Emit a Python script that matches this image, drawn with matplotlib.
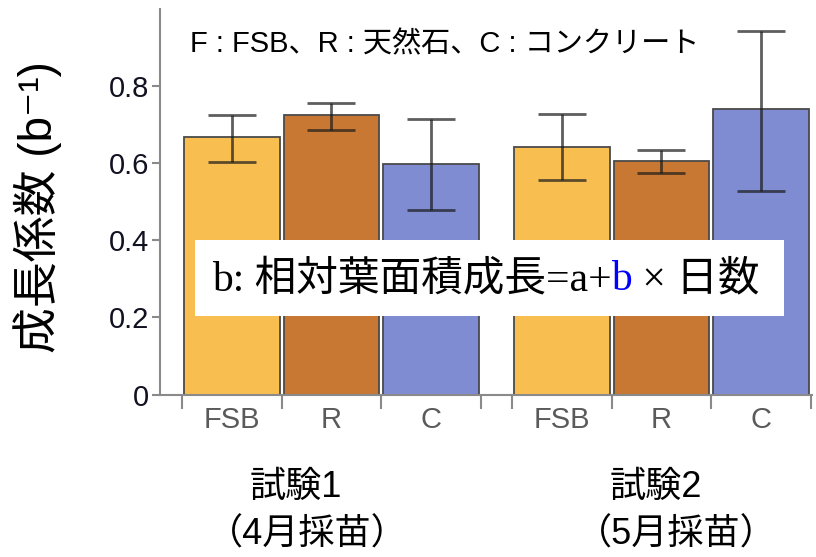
import matplotlib
matplotlib.use("Agg")
import matplotlib.pyplot as plt
from matplotlib.patches import Rectangle
import numpy as np

plt.rcParams['font.family'] = ['Liberation Sans', 'Noto Sans CJK JP', 'DejaVu Sans']

# data
materials = ['FSB', 'R', 'C']
growth = [0.667, 0.725, 0.598, 0.643, 0.607, 0.741]
err_low = [0.602, 0.687, 0.479, 0.557, 0.574, 0.529]
err_high = [0.725, 0.755, 0.714, 0.727, 0.635, 0.943]
trial_names = ['試験1', '試験2']
trial_dates = ['（4月採苗）', '（5月採苗）']
yticks = [0, 0.2, 0.4, 0.6, 0.8]
ytick_labels = ['0', '0.2', '0.4', '0.6', '0.8']

colors = ['#F9BE50', '#C87832', '#7F8CD2'] * 2

growth = np.array(growth)
yerr = [growth - np.array(err_low), np.array(err_high) - growth]
x = np.r_[np.arange(3), np.arange(3) + 3.31]

fig = plt.figure(figsize=(8.16, 5.57), dpi=100)
ax = fig.add_axes([160 / 816, (557 - 394.5) / 557, 652 / 816, 385.5 / 557])

ax.bar(x, growth, width=0.96, color=colors, edgecolor='#4a4a4a', linewidth=1.3, zorder=2)
ax.errorbar(x, growth, yerr=yerr, fmt='none', ecolor=(0.1, 0.1, 0.1, 0.7),
            elinewidth=2, capsize=17, capthick=2, zorder=3)

ax.set_xlim(-0.72, 5.82)
ax.set_ylim(0, 1.0)

edges = np.r_[x[:3] - 0.5, x[2] + 0.5, x[3:] - 0.5, x[5] + 0.5]
ax.set_xticks(x)
ax.set_xticklabels(materials * 2)
ax.set_xticks(edges, minor=True)
ax.tick_params(axis='x', which='major', length=0, pad=8, labelsize=21, labelcolor='#5a5a5a')
ax.tick_params(axis='x', which='minor', length=10, width=1.5, color='#8a8a8a')

ax.set_yticks(yticks)
ax.set_yticklabels(ytick_labels)
ax.tick_params(axis='y', length=6, width=1.5, color='#8a8a8a', pad=2, labelsize=21,
               labelcolor='#111122')

for s in ['top', 'right']:
    ax.spines[s].set_visible(False)
for s in ['left', 'bottom']:
    ax.spines[s].set_color('#8a8a8a')
    ax.spines[s].set_linewidth(1.5)

ax.text(-0.42, 0.908, 'F : FSB、R : 天然石、C : コンクリート', fontsize=21,
        ha='left', va='center')

# formula box
ax.add_patch(Rectangle((-0.37, 0.203), 5.91, 0.197, facecolor='white',
                       edgecolor='none', zorder=5))
serif = ['Liberation Serif', 'Noto Sans CJK JP']
t1 = ax.text(-0.2, 0.27, 'b: 相対葉面積成長=a+', family=serif, fontsize=30,
             ha='left', va='baseline', zorder=6)
fig.canvas.draw()
r = fig.canvas.get_renderer()
inv = ax.transData.inverted()
x1 = inv.transform((t1.get_window_extent(r).x1, 0))[0]
t2 = ax.text(x1, 0.27, 'b', family=serif, fontsize=30, color='#0000ff',
             ha='left', va='baseline', zorder=6)
fig.canvas.draw()
x2 = inv.transform((t2.get_window_extent(r).x1, 0))[0]
ax.text(x2, 0.27, ' × 日数', family=serif, fontsize=30,
        ha='left', va='baseline', zorder=6)

fig.text(38 / 816, 1 - 207 / 557, '成長係数 (b⁻¹)', rotation=90, fontsize=33,
         ha='center', va='center')

fig.text(296 / 816, 1 - 487 / 557, trial_names[0], fontsize=26, ha='center', va='center')
fig.text(307 / 816, 1 - 535 / 557, trial_dates[0], fontsize=26, ha='center', va='center')
fig.text(656 / 816, 1 - 487 / 557, trial_names[1], fontsize=26, ha='center', va='center')
fig.text(676 / 816, 1 - 535 / 557, trial_dates[1], fontsize=26, ha='center', va='center')

fig.savefig('out.png', dpi=100)
